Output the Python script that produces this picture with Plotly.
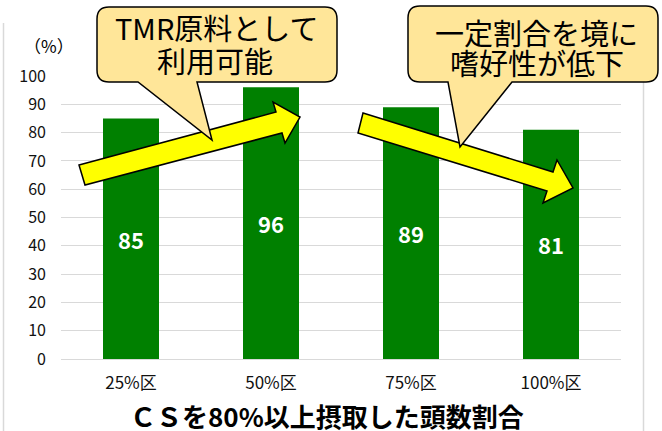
import plotly.graph_objects as go

# ---- data ----
categories = ["25%区", "50%区", "75%区", "100%区"]
values = [85, 96, 89, 81]
y_ticks = [0, 10, 20, 30, 40, 50, 60, 70, 80, 90, 100]
y_unit = "（%）"
x_title = "ＣＳを80%以上摂取した頭数割合"
callout1 = ["TMR原料として", "利用可能"]
callout2 = ["一定割合を境に", "嗜好性が低下"]

W, H = 662, 431
L, R, T, B = 61, 621, 76, 359  # plot area in pixels

def px(x):
    return (x - L) / (R - L)

def py(y):
    return (B - y) / (B - T)

def path(points, close=True):
    s = "M " + " L ".join(f"{px(x):.5f},{py(y):.5f}" for x, y in points)
    return s + (" Z" if close else "")

def rounded_callout(x0, x1, y0, y1, r, pb0, pb1, tip):
    d = f"M {px(x0 + r):.5f},{py(y0):.5f} "
    d += f"L {px(x1 - r):.5f},{py(y0):.5f} "
    d += f"Q {px(x1):.5f},{py(y0):.5f} {px(x1):.5f},{py(y0 + r):.5f} "
    d += f"L {px(x1):.5f},{py(y1 - r):.5f} "
    d += f"Q {px(x1):.5f},{py(y1):.5f} {px(x1 - r):.5f},{py(y1):.5f} "
    d += f"L {px(pb1):.5f},{py(y1):.5f} "
    d += f"L {px(tip[0]):.5f},{py(tip[1]):.5f} "
    d += f"L {px(pb0):.5f},{py(y1):.5f} "
    d += f"L {px(x0 + r):.5f},{py(y1):.5f} "
    d += f"Q {px(x0):.5f},{py(y1):.5f} {px(x0):.5f},{py(y1 - r):.5f} "
    d += f"L {px(x0):.5f},{py(y0 + r):.5f} "
    d += f"Q {px(x0):.5f},{py(y0):.5f} {px(x0 + r):.5f},{py(y0):.5f} Z"
    return d

FONT = "Noto Sans CJK JP"

fig = go.Figure()
fig.add_trace(go.Bar(
    x=categories, y=values,
    marker=dict(color="#008000", line=dict(width=0)),
    width=0.4,
    text=values, texttemplate="%{text}",
    textposition="inside", insidetextanchor="middle", textangle=0,
    textfont=dict(color="white", size=22, family=FONT, weight="bold"),
    cliponaxis=False,
))

shapes = []
# outer chart border (left / right)
shapes.append(dict(type="line", xref="paper", yref="paper",
                   x0=px(3.5), x1=px(3.5), y0=py(23), y1=py(440),
                   line=dict(color="#D9D9D9", width=1.5), layer="above"))
shapes.append(dict(type="line", xref="paper", yref="paper",
                   x0=px(643.5), x1=px(643.5), y0=py(60), y1=py(440),
                   line=dict(color="#D9D9D9", width=1.5), layer="above"))
# arrows
arrow1 = [(79, 165), (276, 112), (273, 102), (300, 117), (285, 143), (282, 133), (85, 185)]
arrow2 = [(363, 113), (553, 172), (557, 160), (573, 188), (543, 203), (547, 191), (358, 133)]
for a in (arrow1, arrow2):
    shapes.append(dict(type="path", xref="paper", yref="paper", path=path(a),
                       fillcolor="#FFFF00", line=dict(color="#000000", width=1.5),
                       layer="above"))
# callouts
shapes.append(dict(type="path", xref="paper", yref="paper",
                   path=rounded_callout(97, 337, 7, 82, 12, 138, 197, (212, 140)),
                   fillcolor="#FFE699", line=dict(color="#000000", width=1.5), layer="above"))
shapes.append(dict(type="path", xref="paper", yref="paper",
                   path=rounded_callout(408, 658, 6, 82, 12, 448, 512, (460, 147)),
                   fillcolor="#FFE699", line=dict(color="#000000", width=1.5), layer="above"))

annotations = []
for text, cx, cy in [(callout1[0], 216, 27), (callout1[1], 215, 60),
                     (callout2[0], 536, 32), (callout2[1], 537, 62)]:
    annotations.append(dict(text=text, xref="paper", yref="paper", x=px(cx), y=py(cy),
                            xanchor="center", yanchor="middle", showarrow=False,
                            font=dict(family=FONT, size=29, color="#000000")))
annotations.append(dict(text=y_unit, xref="paper", yref="paper", x=px(49), y=py(45),
                        xanchor="center", yanchor="middle", showarrow=False,
                        font=dict(family=FONT, size=17, color="#000000")))
annotations.append(dict(text=x_title, xref="paper", yref="paper", x=px(327), y=py(415),
                        xanchor="center", yanchor="middle", showarrow=False,
                        font=dict(family=FONT, size=26, color="#000000", weight="bold")))

fig.update_layout(
    width=W, height=H,
    margin=dict(l=L, r=W - R, t=T, b=H - B, pad=0),
    paper_bgcolor="white", plot_bgcolor="white",
    showlegend=False,
    bargap=0.6,
    shapes=shapes,
    annotations=annotations,
    xaxis=dict(
        type="category", showgrid=False, showline=False, zeroline=False,
        ticks="", tickfont=dict(family=FONT, size=17, color="#111111"),
        ticklabelstandoff=12,
    ),
    yaxis=dict(
        range=[0, 100], tickvals=y_ticks, ticktext=[str(v) for v in y_ticks],
        showgrid=True, gridcolor="#D9D9D9", gridwidth=1.3,
        zeroline=True, zerolinecolor="#D9D9D9", zerolinewidth=1.3,
        showline=False, ticks="",
        tickfont=dict(family=FONT, size=16, color="#111111"),
        ticklabelstandoff=14,
    ),
)

fig.write_html("out.html",
               config={"displayModeBar": False},
               post_script="document.body.style.margin='0';document.body.style.overflow='hidden';")
